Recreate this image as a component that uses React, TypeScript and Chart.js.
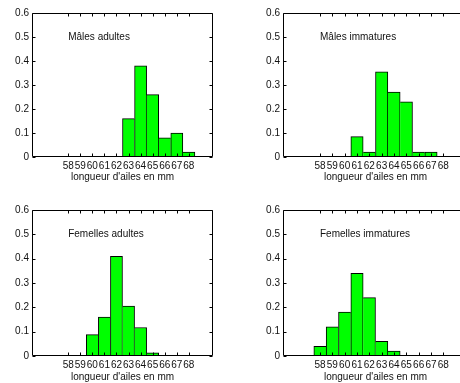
import React, { useEffect, useRef } from 'react';
import { Chart, registerables } from 'chart.js';

Chart.register(...registerables);

// ---- data ----
const lengths = [58, 59, 60, 61, 62, 63, 64, 65, 66, 67, 68];
const malesAdultes = [0, 0, 0, 0, 0, 0.16, 0.38, 0.26, 0.08, 0.1, 0.02];
const malesImmatures = [0, 0, 0, 0.085, 0.02, 0.355, 0.27, 0.23, 0.02, 0.02, 0];
const femellesAdultes = [0, 0, 0.088, 0.16, 0.41, 0.205, 0.117, 0.013, 0, 0, 0];
const femellesImmatures = [0.04, 0.12, 0.18, 0.34, 0.24, 0.06, 0.02, 0, 0, 0, 0];
const yTickLabels = ['0', '0.1', '0.2', '0.3', '0.4', '0.5', '0.6'];
const xLabel = "longueur d'ailes en mm";
const X_MIN = 55;
const X_MAX = 70;

const FONT = 'Liberation Sans, Arial, Helvetica, sans-serif';

type Panel = {
  title: string;
  values: number[];
  left: number;
  top: number;
  width: number;
  height: number;
  yAxisWidth: number;
  padTop: number;
  padRight: number;
  xAxisHeight: number;
};

const panels: Panel[] = [
  { title: 'Mâles adultes', values: malesAdultes, left: 0, top: 0, width: 230, height: 183, yAxisWidth: 32, padTop: 13, padRight: 17, xAxisHeight: 26 },
  { title: 'Mâles immatures', values: malesImmatures, left: 230, top: 0, width: 250, height: 183, yAxisWidth: 53, padTop: 13, padRight: 12, xAxisHeight: 26 },
  { title: 'Femelles adultes', values: femellesAdultes, left: 0, top: 195, width: 230, height: 188, yAxisWidth: 32, padTop: 15, padRight: 17, xAxisHeight: 27 },
  { title: 'Femelles immatures', values: femellesImmatures, left: 230, top: 195, width: 250, height: 188, yAxisWidth: 53, padTop: 15, padRight: 12, xAxisHeight: 27 },
];

const framePlugin = {
  id: 'frame',
  afterDatasetsDraw(chart: any, _args: any, opts: any) {
    const { ctx, chartArea: a, scales } = chart;
    const x = scales.x;
    const y = scales.y;
    const L = Math.round(a.left) + 0.5;
    const R = Math.round(a.right) - 0.5;
    const T = Math.round(a.top) + 0.5;
    const B = Math.round(a.bottom) - 0.5;
    ctx.save();
    ctx.strokeStyle = '#000';
    ctx.lineWidth = 1;
    ctx.beginPath();
    ctx.rect(L, T, R - L, B - T);
    ctx.stroke();
    const tl = 3;
    ctx.beginPath();
    for (const v of lengths) {
      const px = Math.round(x.getPixelForValue(v)) + 0.5;
      ctx.moveTo(px, B);
      ctx.lineTo(px, B - tl);
      ctx.moveTo(px, T);
      ctx.lineTo(px, T + tl);
    }
    yTickLabels.forEach((_s, i) => {
      const py = Math.round(y.getPixelForValue(i * 0.1)) + 0.5;
      ctx.moveTo(L, py);
      ctx.lineTo(L + tl, py);
      ctx.moveTo(R, py);
      ctx.lineTo(R - tl, py);
    });
    ctx.stroke();
    // annotation
    ctx.fillStyle = '#111';
    ctx.font = `10px ${FONT}`;
    ctx.textAlign = 'left';
    ctx.textBaseline = 'middle';
    ctx.fillText(opts.label, x.getPixelForValue(58), y.getPixelForValue(0.5));
    ctx.restore();
  },
};

function HistPanel({ p }: { p: Panel }) {
  const ref = useRef<HTMLCanvasElement | null>(null);
  useEffect(() => {
    if (!ref.current) return;
    const vals = p.values;
    const chart = new Chart(ref.current, {
      type: 'bar',
      data: {
        datasets: [
          {
            data: lengths.map((x, i) => ({ x, y: vals[i] })),
            backgroundColor: '#00ff00',
            borderColor: '#000',
            borderWidth: (c: any) => {
              const i = c.dataIndex;
              const v = vals[i];
              const prev = i > 0 ? vals[i - 1] : 0;
              const next = i < vals.length - 1 ? vals[i + 1] : 0;
              return { top: 1, left: prev <= v ? 1 : 0, right: next < v ? 1 : 0, bottom: 0 };
            },
            borderSkipped: false,
            barPercentage: 1,
            categoryPercentage: 1,
          } as any,
        ],
      },
      options: {
        responsive: false,
        animation: false,
        devicePixelRatio: 1,
        layout: { padding: { top: p.padTop, right: p.padRight, left: 0, bottom: 0 } },
        plugins: {
          legend: { display: false },
          tooltip: { enabled: false },
          frame: { label: p.title },
        } as any,
        scales: {
          x: {
            type: 'linear',
            min: X_MIN,
            max: X_MAX,
            offset: false,
            grid: { display: false, offset: false, drawTicks: false },
            border: { display: false },
            ticks: {
              stepSize: 1,
              autoSkip: false,
              maxRotation: 0,
              minRotation: 0,
              padding: 3,
              color: '#111',
              font: { family: FONT, size: 10 },
              callback: (v: any) => (lengths.includes(Number(v)) ? String(v) : ''),
            },
            title: {
              display: true,
              text: xLabel,
              color: '#111',
              padding: 0,
              font: { family: FONT, size: 10 },
            },
            afterFit: (s: any) => {
              s.height = p.xAxisHeight;
            },
          },
          y: {
            type: 'linear',
            min: 0,
            max: 0.6,
            grid: { display: false, drawTicks: false },
            border: { display: false },
            ticks: {
              stepSize: 0.1,
              padding: 3,
              color: '#111',
              font: { family: FONT, size: 10 },
              callback: (_v: any, i: number) => yTickLabels[i],
            },
            afterFit: (s: any) => {
              s.width = p.yAxisWidth;
            },
          },
        },
      } as any,
      plugins: [framePlugin],
    });
    return () => chart.destroy();
  }, [p]);
  return (
    <canvas
      ref={ref}
      width={p.width}
      height={p.height}
      style={{ position: 'absolute', left: p.left, top: p.top, width: p.width, height: p.height }}
    />
  );
}

export default function App() {
  return (
    <div
      style={{
        position: 'fixed',
        left: 0,
        top: 0,
        width: 460,
        height: 383,
        overflow: 'hidden',
        background: '#fff',
      }}
    >
      {panels.map((p) => (
        <HistPanel key={p.title} p={p} />
      ))}
    </div>
  );
}
